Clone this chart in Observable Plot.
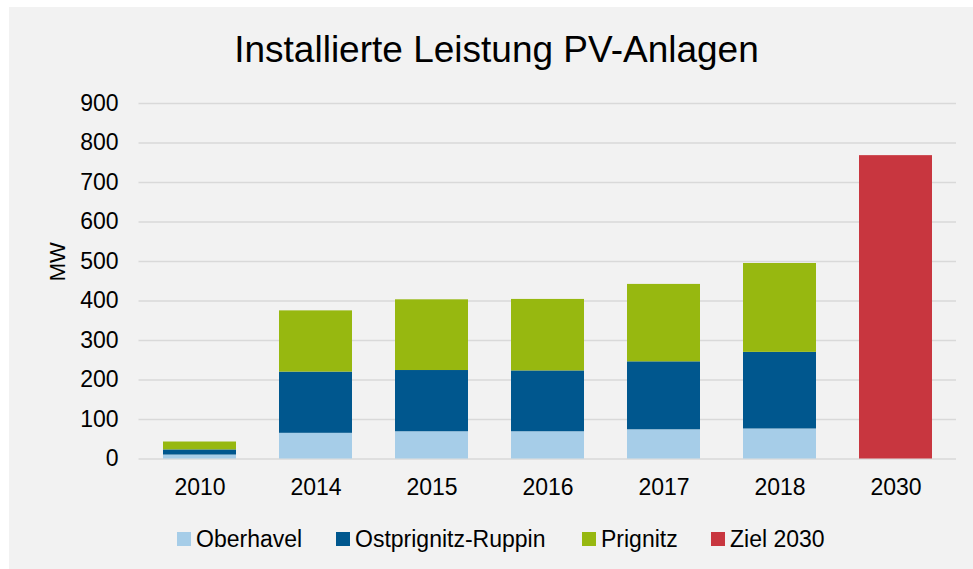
<!DOCTYPE html>
<html>
<head>
<meta charset="utf-8">
<script src="https://cdn.jsdelivr.net/npm/d3@7"></script>
<script src="https://cdn.jsdelivr.net/npm/@observablehq/plot@0.6"></script>
<style>
  html, body { margin: 0; padding: 0; background: #ffffff; }
  body { width: 973px; height: 569px; position: relative; overflow: hidden; font-family: "Liberation Sans", Arial, sans-serif; }
  #panel { position: absolute; left: 9px; top: 7px; width: 964px; height: 562px; background: #f2f2f2; }
  #title { position: absolute; left: 20px; top: 28px; width: 953px; text-align: center; font-size: 37px; color: #000; line-height: 44px; }
  #chart { position: absolute; left: 0; top: 80px; }
  #legend { position: absolute; top: 526px; left: 0; height: 26px; font-size: 23px; color: #000; }
  .item { position: absolute; top: 0; white-space: nowrap; line-height: 26px; }
  .sw { display: inline-block; width: 14px; height: 14px; margin-right: 5px; vertical-align: 1px; }
</style>
</head>
<body>
<div id="panel"></div>
<div id="title"></div>
<div id="chart"></div>
<div id="legend"></div>
<script>
const titleText = "Installierte Leistung PV-Anlagen";
const yLabel = "MW";
const years = ["2010", "2014", "2015", "2016", "2017", "2018", "2030"];
const seriesNames = ["Oberhavel", "Ostprignitz-Ruppin", "Prignitz", "Ziel 2030"];
const seriesColors = ["#a6cde8", "#00578e", "#97b810", "#c8363f"];
const oberhavel = [10, 65, 69, 69, 74, 76, 0];
const ostprignitzRuppin = [13, 155, 155, 154, 172, 194, 0];
const prignitz = [20, 155, 179, 181, 196, 225, 0];
const ziel2030 = [0, 0, 0, 0, 0, 0, 768];
const yTicks = [0, 100, 200, 300, 400, 500, 600, 700, 800, 900];

document.getElementById("title").textContent = titleText;

const seriesValues = [oberhavel, ostprignitzRuppin, prignitz, ziel2030];
const rows = [];
seriesNames.forEach((s, si) => {
  years.forEach((y, yi) => {
    const v = seriesValues[si][yi];
    if (v > 0) rows.push({ year: y, series: s, value: v });
  });
});

const chart = Plot.plot({
  width: 973,
  height: 430,
  marginTop: 23,
  marginBottom: 51.5,
  marginLeft: 138.5,
  marginRight: 17,
  style: { background: "transparent", fontFamily: "'Liberation Sans', Arial, sans-serif", color: "#000" },
  x: { domain: years, paddingInner: 0.373, paddingOuter: 0.1865, label: null, tickSize: 0, tickPadding: 20 },
  y: { domain: [0, 900], ticks: yTicks, label: null, tickSize: 0, tickPadding: 21 },
  color: { domain: seriesNames, range: seriesColors },
  marks: [
    Plot.gridY(yTicks, { stroke: "#d9d9d9", strokeOpacity: 1, strokeWidth: 1.6 }),
    Plot.barY(rows, { x: "year", y: "value", fill: "series", order: seriesNames }),
    Plot.axisX({ tickSize: 0, tickPadding: 20, fontSize: 23, label: null }),
    Plot.axisY(yTicks, { tickSize: 0, tickPadding: 20.5, fontSize: 23, label: null }),
    Plot.text([yLabel], { frameAnchor: "left", rotate: -90, dx: -81.5, fontSize: 22, fill: "#000" })
  ]
});
document.getElementById("chart").appendChild(chart);

const legend = document.getElementById("legend");
const legendX = [177, 336, 582, 711];
seriesNames.forEach((s, i) => {
  const d = document.createElement("div");
  d.className = "item";
  d.style.left = legendX[i] + "px";
  const sw = document.createElement("span");
  sw.className = "sw";
  sw.style.background = seriesColors[i];
  d.appendChild(sw);
  d.appendChild(document.createTextNode(s));
  legend.appendChild(d);
});
</script>
</body>
</html>
